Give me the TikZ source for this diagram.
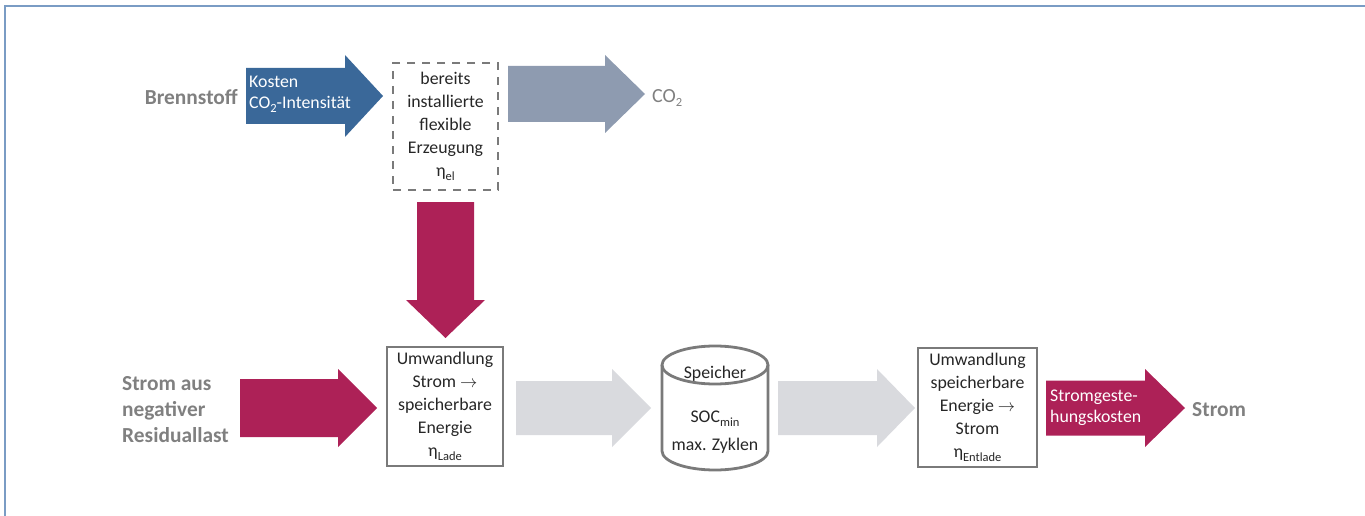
\documentclass[tikz,border=0pt]{standalone}
\usepackage{fontspec}
\setmainfont{Carlito}
\definecolor{frameblue}{HTML}{7A9CC4}
\definecolor{fuelblue}{HTML}{3A6899}
\definecolor{co2gray}{HTML}{8E9BB0}
\definecolor{magenta}{HTML}{AD2157}
\definecolor{lightgray}{HTML}{D9DADE}
\definecolor{boxgray}{HTML}{7A7A7A}
\definecolor{labelgray}{HTML}{808080}
\definecolor{txt}{HTML}{262626}
\newcommand{\rarrow}[7]{\fill[#7] (#1,{#4-#5}) -- (#2,{#4-#5}) -- (#2,{#4-#6}) -- (#3,#4) -- (#2,{#4+#6}) -- (#2,{#4+#5}) -- (#1,{#4+#5}) -- cycle;}
\newcommand{\sub}[1]{\raisebox{-0.5ex}{\fontsize{12.5}{12}\selectfont #1}}
\tikzset{
  frame/.style={draw=frameblue, line width=1.5pt},
  procbox/.style={draw=boxgray, line width=2.8pt, rectangle, align=center, text=txt, inner sep=0pt, font=\fontsize{17.8}{23}\selectfont},
  dashbox/.style={procbox, dash pattern=on 8pt off 7pt},
  biglabel/.style={text=labelgray, font=\bfseries\fontsize{21.4}{26}\selectfont, inner sep=0pt},
  intext/.style={text=white, font=\fontsize{17.8}{21}\selectfont, inner sep=0pt, align=left},
  cyltext/.style={text=txt, font=\fontsize{17.8}{23}\selectfont, inner sep=0pt}
}
\begin{document}
\begin{tikzpicture}[x=1pt,y=-1pt]
\useasboundingbox (0,0) rectangle (1365,516);
\draw[frame] (1365,6) -- (5,6) -- (5,516);

% arrows
\rarrow{246}{345}{383}{96}{28}{41}{fuelblue}
\rarrow{508}{605}{645}{94}{28}{39}{co2gray}
\rarrow{240}{338}{377}{408}{29}{39}{magenta}
\rarrow{516}{612}{651}{408}{27}{39}{lightgray}
\rarrow{778}{877}{915}{408}{27}{39}{lightgray}
\rarrow{1046}{1145}{1185}{408}{27.5}{39}{magenta}
\fill[magenta] (417,202) -- (474,202) -- (474,300) -- (485,300) -- (445.5,338) -- (406,300) -- (417,300) -- cycle;

% labels
\node[biglabel, anchor=east] (brennstoff) at (238,97) {Brennstoff};
\node[intext, anchor=west] (kosten) at (249,94) {Kosten\\CO\sub{2}-Intensität};
\node[text=labelgray, font=\fontsize{20}{21}\selectfont, inner sep=0pt, anchor=west] (co2) at (652,98) {CO\sub{2}};
\node[biglabel, anchor=west, align=left] (stromaus) at (122,410) {Strom aus\\negativer\\Residuallast};
\node[intext, anchor=west] (kostenstrom) at (1050,408) {Stromgeste-\\hungskosten};
\node[biglabel, anchor=west] (strom) at (1192,410) {Strom};

% boxes
\node[dashbox, minimum width=105pt, minimum height=127pt] (erz) at (445.5,126.5)
  {bereits\\installierte\\flexible\\Erzeugung\\η\sub{el}};
\node[procbox, minimum width=116pt, minimum height=119pt] (lade) at (445,406.5)
  {Umwandlung\\Strom $\rightarrow$\\speicherbare\\Energie\\η\sub{Lade}};
\node[procbox, minimum width=119pt, minimum height=119pt] (entlade) at (977.5,407.5)
  {Umwandlung\\speicherbare\\Energie $\rightarrow$\\Strom\\η\sub{Entlade}};

% cylinder
\draw[draw=boxgray, line width=2.8pt, fill=white] (662,365) -- (662,451) arc[start angle=180, end angle=0, x radius=53, y radius=19] -- (768,365);
\draw[draw=boxgray, line width=2.8pt] (715,365) ellipse[x radius=53, y radius=19];
\node[cyltext] (speicher) at (715,374) {Speicher};
\node[cyltext] (soc) at (715,419) {SOC\sub{min}};
\node[cyltext] (zyklen) at (715,446) {max. Zyklen};
\end{tikzpicture}
\end{document}
